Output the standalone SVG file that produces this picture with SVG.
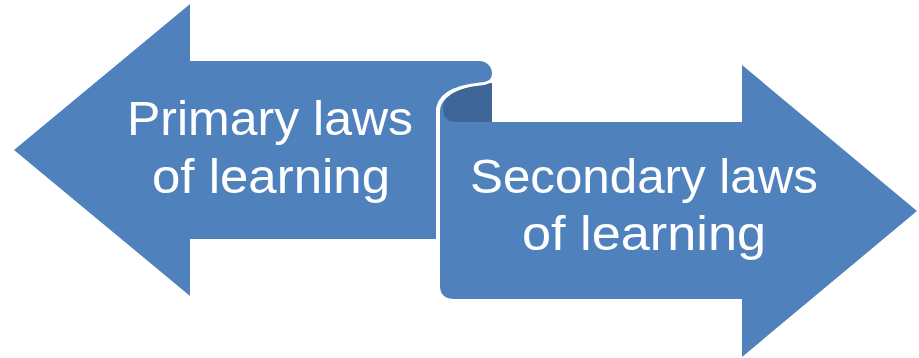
<svg xmlns="http://www.w3.org/2000/svg" width="919" height="358" viewBox="0 0 919 358">
<style>
.main{fill:#4F81BD}
.dark{fill:#3E6797}
.edge{fill:none;stroke:#FFFFFF;stroke-width:3;stroke-linecap:round}
.lbl{font-family:"Liberation Sans",Arial,sans-serif;font-size:48px;fill:#FFFFFF;text-anchor:middle}
</style>
<rect width="919" height="358" fill="#FFFFFF"/>
<g id="right-arrow">
<path class="main" d="M440,112 C440,95 462,86 492,83 L492,122 L742,122 L742,65 L917,211 L742,357 L742,299 L455,299 Q440,299 440,286 Z"/>
<path class="dark" d="M492,83 C466,86 443,93 443,108 Q443,122 456,122 L492,122 Z"/>
<text class="lbl" x="644" y="193" textLength="348" lengthAdjust="spacingAndGlyphs">Secondary laws</text>
<text class="lbl" x="644" y="250" textLength="244" lengthAdjust="spacingAndGlyphs">of learning</text>
</g>
<g id="left-arrow">
<path class="main" d="M14,150 L190,4 L190,61 L479,61 C487,61 492,67 492,73 C492,80 487,83 480,84 C460,86 436,92 436,112 L436,239 L190,239 L190,296 Z"/>
<path class="edge" d="M491,81 C487,83 484,84 480,84 C460,86 437.5,92 437.5,112 L437.5,239"/>
<text class="lbl" x="270" y="135" textLength="286" lengthAdjust="spacingAndGlyphs">Primary laws</text>
<text class="lbl" x="271" y="193" textLength="238" lengthAdjust="spacingAndGlyphs">of learning</text>
</g>
<g id="connectors"></g>
</svg>
